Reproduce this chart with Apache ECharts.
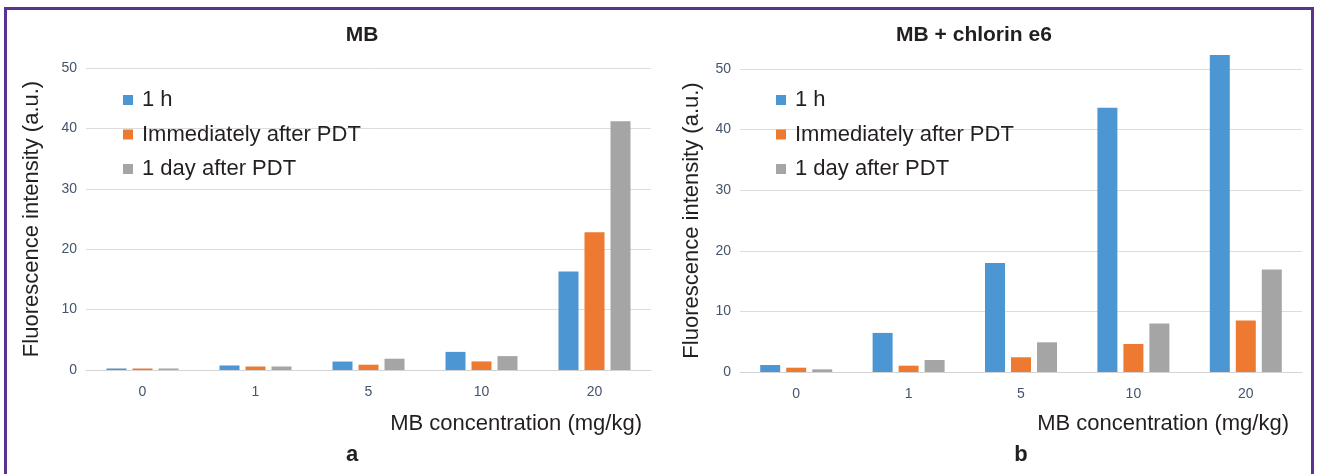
<!DOCTYPE html>
<html>
<head>
<meta charset="utf-8">
<script src="https://cdn.jsdelivr.net/npm/echarts@6/dist/echarts.min.js"></script>
<style>
  html, body { margin: 0; padding: 0; background: #ffffff; }
  #frame { position: absolute; left: 4px; top: 7px; width: 1304px; height: 480px;
           border: 3px solid #5a3392; border-bottom: none; }
  #chart { position: absolute; left: 0; top: 0; width: 1318px; height: 474px; }
</style>
</head>
<body>
<div id="frame"></div>
<div id="chart"></div>
<script>
// ---- data ----
const categories = ['0', '1', '5', '10', '20'];
const seriesNames = ['1 h', 'Immediately after PDT', '1 day after PDT'];
const yTicks = [0, 10, 20, 30, 40, 50];

// Panel a: MB
const mb_1h        = [0.25, 0.75, 1.4, 3.0, 16.3];
const mb_immediate = [0.25, 0.58, 0.88, 1.42, 22.8];
const mb_1day      = [0.25, 0.58, 1.87, 2.3, 41.2];

// Panel b: MB + chlorin e6
const ce_1h        = [1.15, 6.45, 18.0, 43.6, 52.3];
const ce_immediate = [0.71, 1.04, 2.43, 4.63, 8.5];
const ce_1day      = [0.44, 1.98, 4.9, 8.0, 16.9];

const panelTitles = ['MB', 'MB + chlorin e6'];
const panelLetters = ['a', 'b'];
const xName = 'MB concentration (mg/kg)';
const yName = 'Fluorescence intensity (a.u.)';

// ---- styling ----
const colors = ['#4b96d3', '#ed7a30', '#a5a5a5'];
const FONT = "'Liberation Sans', Arial, sans-serif";
const tickColor = '#44546a';
const textColor = '#231f20';

const chart = echarts.init(document.getElementById('chart'), null, { renderer: 'canvas' });

function yAxisFor(idx, gap) {
  return {
    type: 'value', gridIndex: idx, min: yTicks[0], max: yTicks[yTicks.length - 1], interval: 10,
    name: yName, nameLocation: 'middle', nameGap: gap,
    nameTextStyle: { fontFamily: FONT, fontSize: 22, color: textColor },
    axisLine: { show: false }, axisTick: { show: false },
    axisLabel: { fontFamily: FONT, fontSize: 14, color: tickColor, margin: 9 },
    splitLine: { lineStyle: { color: '#dcdcdc', width: 1 } }
  };
}
function xAxisFor(idx) {
  return {
    type: 'category', gridIndex: idx, data: categories,
    axisLine: { lineStyle: { color: '#d4d4d4', width: 1 } },
    axisTick: { show: false },
    axisLabel: { fontFamily: FONT, fontSize: 14, color: tickColor, margin: 15 }
  };
}
function barSeries(name, data, idx, ci) {
  return {
    type: 'bar', name: name, data: data, xAxisIndex: idx, yAxisIndex: idx,
    barWidth: 20, barGap: '30%', clip: false,
    itemStyle: { color: colors[ci] }, animation: false
  };
}
function legendFor(left) {
  return {
    orient: 'vertical', left: left, top: 89, padding: 0, itemWidth: 10, itemHeight: 10, itemGap: 12.5,
    icon: 'rect', selectedMode: false,
    data: seriesNames,
    textStyle: { fontFamily: FONT, fontSize: 22, color: textColor, lineHeight: 22, padding: [0, 0, 0, 4] }
  };
}

const option = {
  animation: false,
  backgroundColor: 'transparent',
  color: colors,
  title: [
    { text: panelTitles[0], left: 357, top: 20, textAlign: 'center',
      textStyle: { fontFamily: FONT, fontSize: 21, fontWeight: 'bold', color: textColor } },
    { text: panelTitles[1], left: 969, top: 20, textAlign: 'center',
      textStyle: { fontFamily: FONT, fontSize: 21, fontWeight: 'bold', color: textColor } },
    { text: xName, right: 671, top: 408,
      textStyle: { fontFamily: FONT, fontSize: 22, fontWeight: 'normal', color: textColor } },
    { text: xName, right: 24, top: 408,
      textStyle: { fontFamily: FONT, fontSize: 22, fontWeight: 'normal', color: textColor } },
    { text: panelLetters[0], left: 347, top: 439, textAlign: 'center',
      textStyle: { fontFamily: FONT, fontSize: 22, fontWeight: 'bold', color: textColor } },
    { text: panelLetters[1], left: 1016, top: 439, textAlign: 'center',
      textStyle: { fontFamily: FONT, fontSize: 22, fontWeight: 'bold', color: textColor } }
  ],
  legend: [ legendFor(123), legendFor(776) ],
  grid: [
    { left: 86, top: 68, width: 565, height: 302 },
    { left: 740, top: 69, width: 562, height: 303 }
  ],
  xAxis: [ xAxisFor(0), xAxisFor(1) ],
  yAxis: [ yAxisFor(0, 43), yAxisFor(1, 37) ],
  series: [
    barSeries(seriesNames[0], mb_1h, 0, 0),
    barSeries(seriesNames[1], mb_immediate, 0, 1),
    barSeries(seriesNames[2], mb_1day, 0, 2),
    barSeries(seriesNames[0], ce_1h, 1, 0),
    barSeries(seriesNames[1], ce_immediate, 1, 1),
    barSeries(seriesNames[2], ce_1day, 1, 2)
  ]
};
chart.setOption(option);
</script>
</body>
</html>
